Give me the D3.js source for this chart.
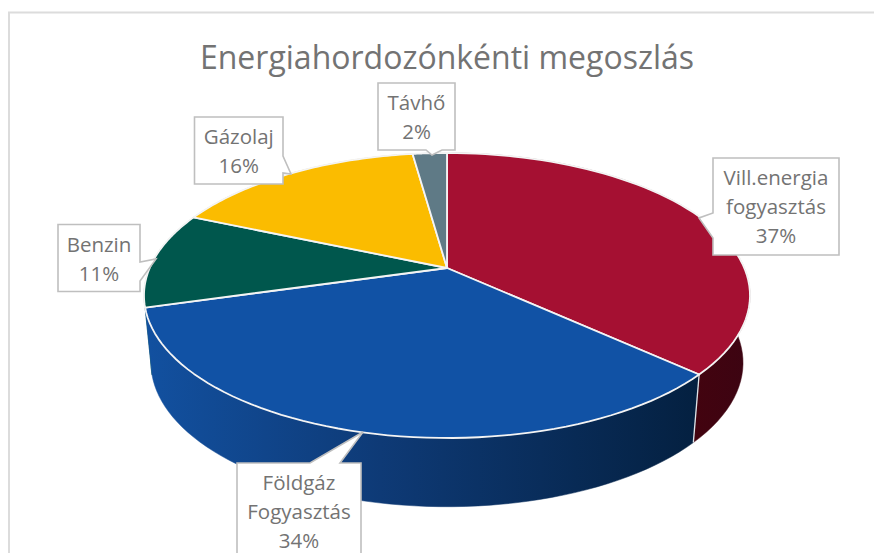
<!DOCTYPE html>
<html><head><meta charset="utf-8">
<script src="https://cdn.jsdelivr.net/npm/d3@7"></script>
<style>html,body{margin:0;padding:0;background:#fff;overflow:hidden}svg{display:block}
text{font-family:"Open Sans",sans-serif}</style></head>
<body><svg id="c" width="874" height="553"></svg>
<script>
const titleText = "Energiahordozónkénti megoszlás";
const categories = [["Vill.energia","fogyasztás"],["Földgáz","Fogyasztás"],["Benzin"],["Gázolaj"],["Távhő"]];
const values = [36.8,33.8,10.9,16.3,2.2];
const colors = ["#a51032","#1152a5","#00574d","#fbbc00","#5f7a86"];
const sideFrom = ["#43030f","#12509f","#00574d","#c99600","#4a5f69"];
const sideTo = ["#3c0412","#042040","#00574d","#c99600","#4a5f69"];
// callout boxes [x0,y0,x1,y1] and their pointer base / tip
const boxes = [[713,158,839,255],[237,463,361,570],[58,224.5,140,291.5],[194.5,117,283,184],[378,83,455,150]];
const pointers = [[[713,213],[699,218],[713,238]],[[310,463],[363,432],[340,463]],[[140,262],[156,259],[140,281]],[[283,156],[291,174],[283,173]],[[426,150],[432,155],[442,150]]];

const svg = d3.select("#c");
const cx=447, cy=268, p=0.193, ky=137.2, rx=297.3;
const depth=67, bx=0.977, by=1.01;
const pct=d3.format(".0f");
const top3=a=>{const x=Math.sin(a),y=-Math.cos(a),w=1-p*y;return [cx+rx*x/w,cy+ky*y/w];};
const bot3=a=>{const [X,Y]=top3(a);return [cx+(X-cx)*bx,cy+(Y-cy)*by+depth];};
const pie=d3.pie().sort(null).value(d=>d);
const arcs=pie(values);
const line=d3.line();
const samples=(a0,a1)=>d3.range(0,61).map(i=>a0+(a1-a0)*i/60);

svg.append("rect").attr("x",9).attr("y",12.5).attr("width",880).attr("height",600)
  .attr("fill","#fff").attr("stroke","#dcdcdc").attr("stroke-width",2);

const defs=svg.append("defs");
arcs.forEach((d,i)=>{
  const g=defs.append("linearGradient").attr("id","side"+i).attr("gradientUnits","userSpaceOnUse")
    .attr("x1",i==0?690:150).attr("x2",i==0?750:700).attr("y1",0).attr("y2",0);
  g.append("stop").attr("offset",0).attr("stop-color",sideFrom[i]);
  if(i==1) g.append("stop").attr("offset",0.42).attr("stop-color","#0e3a76");
  g.append("stop").attr("offset",1).attr("stop-color",sideTo[i]);
});
// sides
[2,3,4,0,1].forEach(i=>{const d=arcs[i];
  const s=samples(d.startAngle,d.endAngle);
  const pts=s.map(top3).concat(s.slice().reverse().map(bot3));
  svg.append("path").attr("d",line(pts)+"Z").attr("fill",`url(#side${i})`)
    .attr("stroke",`url(#side${i})`).attr("stroke-width",0.5);
});
// white divider on the side between red and blue
svg.append("line").attr("x1",top3(arcs[0].endAngle)[0]).attr("y1",top3(arcs[0].endAngle)[1])
  .attr("x2",bot3(arcs[0].endAngle)[0]).attr("y2",bot3(arcs[0].endAngle)[1]).attr("stroke","#e0e4e8").attr("stroke-width",1.3);
// tops
arcs.forEach((d,i)=>{
  const pts=[[cx,cy]].concat(samples(d.startAngle,d.endAngle).map(top3));
  svg.append("path").attr("d",line(pts)+"Z").attr("fill",colors[i])
    .attr("stroke","#f4f4f4").attr("stroke-width",1.8).attr("stroke-linejoin","round");
});
// callouts
arcs.forEach((d,i)=>{
  const b=boxes[i],q=pointers[i];
  let outline;
  if(q[0][1]===q[2][1] && q[0][1]===b[1]) outline=[[b[0],b[1]],q[0],q[1],q[2],[b[2],b[1]],[b[2],b[3]],[b[0],b[3]]];
  else if(q[0][1]===q[2][1]) outline=[[b[0],b[1]],[b[2],b[1]],[b[2],b[3]],q[2],q[1],q[0],[b[0],b[3]]];
  else if(q[0][0]===b[0]) outline=[[b[0],b[1]],[b[2],b[1]],[b[2],b[3]],[b[0],b[3]],q[2],q[1],q[0]];
  else outline=[[b[0],b[1]],[b[2],b[1]],q[0],q[1],q[2],[b[2],b[3]],[b[0],b[3]]];
  svg.append("path").attr("d",line(outline)+"Z").attr("fill","#fff").attr("stroke","#bfbfbf").attr("stroke-width",1.6);
  const lines=categories[i].concat(pct(d.value)+"%");
  const mx=(b[0]+b[2])/2;
  lines.forEach((t,j)=>svg.append("text").attr("x",mx).attr("y",b[1]+27+j*29)
    .attr("text-anchor","middle").attr("font-size",20.5).attr("fill","#737373").text(t));
});
svg.append("text").attr("x",447).attr("y",69).attr("text-anchor","middle").attr("font-size",32).attr("fill","#737373").text(titleText);
</script></body></html>
